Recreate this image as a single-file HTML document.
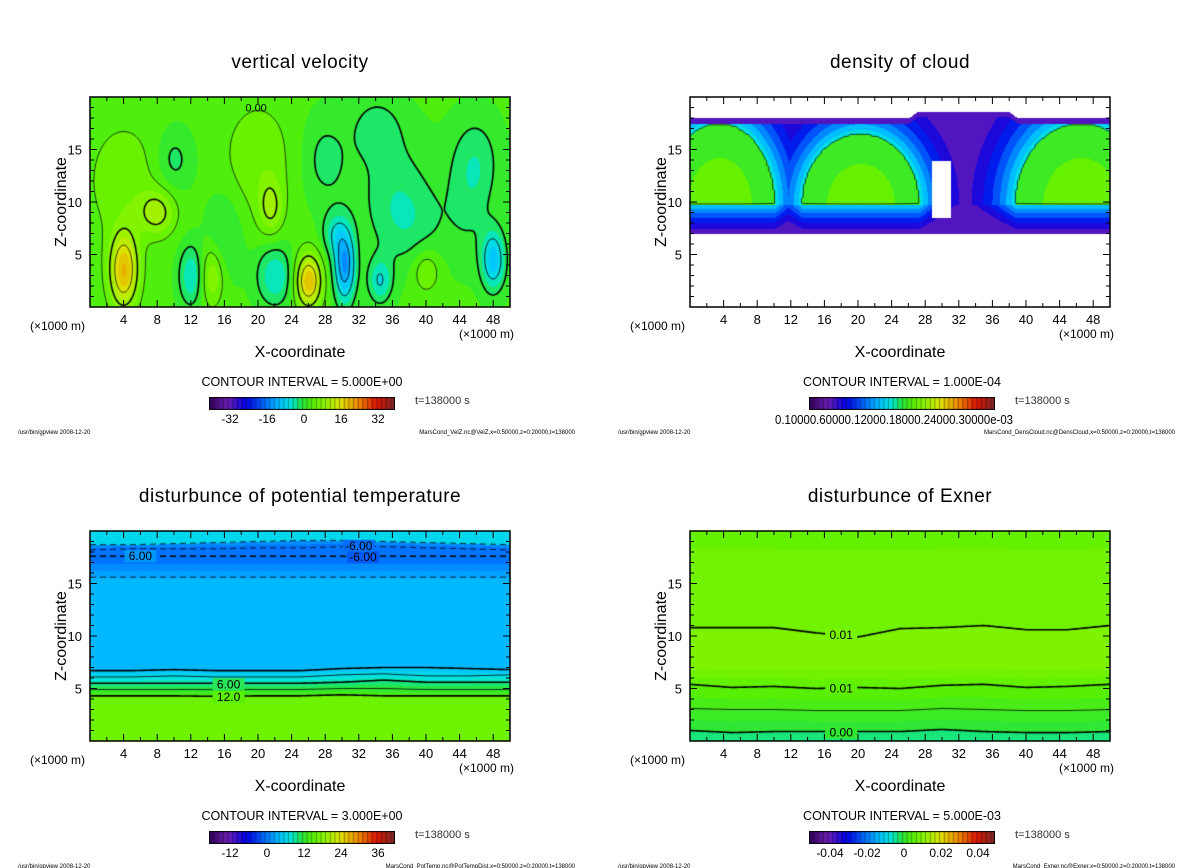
<!DOCTYPE html>
<html><head><meta charset="utf-8">
<style>
html,body{margin:0;padding:0;background:#fff;}
#wrap{position:relative;width:1200px;height:868px;overflow:hidden;font-family:"Liberation Sans",sans-serif;}
canvas{position:absolute;}
svg{position:absolute;left:0;top:0;}
</style></head>
<body>
<div id="wrap">
<canvas id="c0" width="420" height="210" style="left:90px;top:97px"></canvas>
<canvas id="c1" width="420" height="210" style="left:690px;top:97px"></canvas>
<canvas id="c2" width="420" height="210" style="left:90px;top:531px"></canvas>
<canvas id="c3" width="420" height="210" style="left:690px;top:531px"></canvas>
<canvas id="cb0" width="186" height="13" style="left:209px;top:397px"></canvas>
<canvas id="cb1" width="186" height="13" style="left:809px;top:397px"></canvas>
<canvas id="cb2" width="186" height="13" style="left:209px;top:831px"></canvas>
<canvas id="cb3" width="186" height="13" style="left:809px;top:831px"></canvas>
<svg id="ov" width="1200" height="868"></svg>
</div>
<script>
// ---------- data ----------
const xTickLabels=[4,8,12,16,20,24,28,32,36,40,44,48];
const zTickLabels=[5,10,15];
const titles=["vertical velocity","density of cloud","disturbunce of potential temperature","disturbunce of Exner"];
const intervals=["5.000E+00","1.000E-04","3.000E+00","5.000E-03"];
const footers=["MarsCond_VelZ.nc@VelZ,x=0:50000,z=0:20000,t=138000","MarsCond_DensCloud.nc@DensCloud,x=0:50000,z=0:20000,t=138000","MarsCond_PotTemp.nc@PotTempDist,x=0:50000,z=0:20000,t=138000","MarsCond_Exner.nc@Exner,x=0:50000,z=0:20000,t=138000"];
const cbLabels=[["-32","-16","0","16","32"],null,["-12","0","12","24","36"],["-0.04","-0.02","0","0.02","0.04"]];
// velocity blobs
const vvBx=[4,26,8,21.5,14.5,40,20,4,30.3,22,12,48,34.5,29,36,45,28,10,38,46,16,34];
const vvBz=[3.5,2.5,9,9.5,3,3.5,14,12,4,3,3,4.5,2.5,7,12,10,14,14,8,14,7,17];
const vvAmp=[17,17,8,7,7,5,4,4,-16,-8,-8,-12,-8,-6,-3.5,-3,-4,-4,-4,-4,-3.5,-4];
const vvSx=[1.2,1.1,1.5,1,1,1.2,3,3,0.9,1.5,1,1,1,1,3,2,2,1.5,3,2,1.5,2];
const vvSz=[2.5,1.8,1.5,1.8,2,1.5,4,4,2.5,2,2,2,1.5,1.5,4,4,3,2,3,3,3,2];
const vvBase=3;
// cloud domes (flat bottom at domeBase)
const dcX=[3.5,20.3,46.5];
const dRx=[6.6,7.0,7.8];
const dcTop=[17.5,16.5,17.5];
const domeBase=9.8;
const cloudBottom=7;
const topX=[0,26,27,38,39,50];
const topZ=[18,18,18.6,18.6,18,18];
const gapX=[28.8,31];
const gapZ=[8.5,14];
// potential temperature contour lines (ordered by height)
const ptXs=[0,5,10,15,20,25,30,35,40,45,50];
const ptLevels=[12,9,6,3,0,-1.5,-6,-6,-3];
const ptLines=[
 [4.3,4.3,4.3,4.25,4.3,4.3,4.4,4.3,4.3,4.3,4.3],
 [4.9,4.9,4.9,4.9,4.9,4.9,5.0,5.0,4.9,4.9,4.9],
 [5.5,5.5,5.5,5.5,5.5,5.5,5.6,5.8,5.6,5.6,5.6],
 [6.1,6.1,6.2,6.1,6.1,6.1,6.3,6.4,6.2,6.2,6.3],
 [6.7,6.7,6.8,6.7,6.7,6.7,6.9,7.0,7.0,6.9,6.8],
 [15.6,15.6,15.6,15.6,15.6,15.6,15.6,15.6,15.6,15.6,15.6],
 [17.6,17.6,17.6,17.6,17.6,17.6,17.6,17.6,17.6,17.6,17.6],
 [18.2,18.3,18.3,18.3,18.4,18.4,18.5,18.5,18.4,18.3,18.2],
 [18.7,18.7,18.8,18.9,19.0,19.1,19.1,19.0,18.9,18.8,18.7]];
const ptBelow=13.5, ptAbove=2;
// exner contour lines
const exXs=[0,5,10,15,20,25,30,35,40,45,50];
const exLevels=[0,0.005,0.010,0.017,0.015,0.012];
const exLines=[
 [1.0,0.8,0.9,0.9,0.9,0.9,1.1,0.9,0.8,0.8,0.9],
 [3.1,3.0,3.0,2.9,2.9,2.9,3.1,3.0,2.9,2.9,3.0],
 [5.4,5.1,5.2,5.0,5.1,5.0,5.3,5.4,5.1,5.2,5.4],
 [7.5,7.5,7.5,7.5,7.5,7.5,7.5,7.5,7.5,7.5,7.5],
 [10.8,10.8,10.8,10.3,9.9,10.7,10.8,11.0,10.6,10.6,11.0],
 [19.9,19.9,19.9,19.9,19.9,19.9,19.9,19.9,19.9,19.9,19.9]];
const exDrawn=[1,1,1,0,1,0];
const exBelow=-0.003;

// ---------- helpers ----------
const PX=[90,690,90,690], PY=[97,97,531,531], W=420, H=210;
const sx=x=>x/50*W, sz=z=>H-z/20*H;
const stops=[[0,50,0,90],[0.10,110,30,180],[0.20,0,0,230],[0.30,0,110,255],[0.38,0,195,255],[0.44,0,230,220],[0.50,40,230,60],[0.56,90,240,0],[0.62,140,245,0],[0.70,220,230,0],[0.80,240,140,0],[0.90,220,20,0],[1,120,40,40]];
function cmap(t){t=Math.max(0,Math.min(1,t));for(let i=1;i<stops.length;i++){if(t<=stops[i][0]){const a=stops[i-1],b=stops[i],f=(t-a[0])/(b[0]-a[0]);return [a[1]+(b[1]-a[1])*f,a[2]+(b[2]-a[2])*f,a[3]+(b[3]-a[3])*f];}}return stops[stops.length-1].slice(1);}
function interp(xs,ys,x){if(x<=xs[0])return ys[0];for(let i=1;i<xs.length;i++){if(x<=xs[i]){const f=(x-xs[i-1])/(xs[i]-xs[i-1]);return ys[i-1]+(ys[i]-ys[i-1])*f;}}return ys[ys.length-1];}
function lineField(xs,lines,levels,below,above,x,z){
  const zs=lines.map(l=>interp(xs,l,x));
  if(z<=zs[0])return below;
  for(let i=1;i<zs.length;i++){if(z<=zs[i]){const f=(z-zs[i-1])/(zs[i]-zs[i-1]);return levels[i-1]+(levels[i]-levels[i-1])*f;}}
  return above;
}
function vvField(x,z){let v=vvBase;for(let i=0;i<vvBx.length;i++){const dx=(x-vvBx[i])/vvSx[i],dz=(z-vvBz[i])/vvSz[i];v+=vvAmp[i]*Math.exp(-(dx*dx+dz*dz)/2);}return v;}
function cloudField(x,z){
  const top=interp(topX,topZ,x);
  if(z<cloudBottom||z>top)return null;
  if(x>gapX[0]&&x<gapX[1]&&z>gapZ[0]&&z<gapZ[1])return null;
  let v=0.00011;
  for(let i=0;i<dcX.length;i++){
    const dx=(x-dcX[i])/dRx[i];
    let c;
    if(z>=domeBase){
      const dz=(z-domeBase)/(dcTop[i]-domeBase);
      const d=Math.sqrt(dx*dx+dz*dz);
      c=d<1?0.00057-0.00006*d*d:0.00044*Math.exp(-(d-1)*1.6);
    }else{
      const b=(z-cloudBottom)/(domeBase-cloudBottom);
      const ax=Math.abs(dx);
      c=(0.00012+0.00028*Math.pow(b,1.3))*(ax<1?1:Math.exp(-(ax-1)*1.6));
    }
    v=Math.max(v,c);
  }
  const e=Math.min(z-cloudBottom,top-z);if(e<0.5)v=Math.min(v,0.0001);
  return v;
}
const fields=[
 {f:vvField,vmin:-40,vmax:40,q:2.5},
 {f:cloudField,vmin:0,vmax:0.001,q:0.00005},
 {f:(x,z)=>lineField(ptXs,ptLines,ptLevels,ptBelow,ptAbove,x,z),vmin:-26.8,vmax:43.7,q:1.5},
 {f:(x,z)=>lineField(exXs,exLines,exLevels,exBelow,0.012,x,z),vmin:-0.08,vmax:0.08,q:0.0025}
];
function paint(k){
  const c=document.getElementById('c'+k),ctx=c.getContext('2d'),img=ctx.createImageData(W,H),F=fields[k];
  const grid=[];
  for(let j=0;j<=H;j++){grid.push([]);for(let i=0;i<=W;i++){grid[j].push(F.f(i/W*50,(H-j)/H*20));}}
  for(let j=0;j<H;j++)for(let i=0;i<W;i++){
    const v=grid[j][i],p=(j*W+i)*4;
    if(v===null){img.data[p]=img.data[p+1]=img.data[p+2]=255;}
    else{const qv=(Math.floor(v/F.q)+0.5)*F.q;const col=cmap((qv-F.vmin)/(F.vmax-F.vmin));img.data[p]=col[0];img.data[p+1]=col[1];img.data[p+2]=col[2];}
    img.data[p+3]=255;
  }
  ctx.putImageData(img,0,0);
  return {ctx,grid};
}
function contour(ctx,grid,level,width,step){
  ctx.beginPath();
  for(let j=0;j+step<=H;j+=step)for(let i=0;i+step<=W;i+=step){
    const a=grid[j][i],b=grid[j][i+step],c=grid[j+step][i+step],d=grid[j+step][i];
    if(a===null||b===null||c===null||d===null)continue;
    const pts=[];
    const e=(v1,v2,x1,y1,x2,y2)=>{if((v1-level)*(v2-level)<0){const f=(level-v1)/(v2-v1);pts.push([x1+(x2-x1)*f,y1+(y2-y1)*f]);}};
    e(a,b,i,j,i+step,j);e(b,c,i+step,j,i+step,j+step);e(c,d,i+step,j+step,i,j+step);e(d,a,i,j+step,i,j);
    for(let p=0;p+1<pts.length;p+=2){ctx.moveTo(pts[p][0],pts[p][1]);ctx.lineTo(pts[p+1][0],pts[p+1][1]);}
  }
  ctx.lineWidth=width;ctx.strokeStyle='#000';ctx.stroke();
}
// panel 0
let r=paint(0);
[-15,-10,-5].forEach(l=>contour(r.ctx,r.grid,l,0.8,3));
contour(r.ctx,r.grid,0,1.6,2);
[5,15].forEach(l=>contour(r.ctx,r.grid,l,0.7,2));
contour(r.ctx,r.grid,10,1.5,2);
// panel 1
r=paint(1);
contour(r.ctx,r.grid,0.000485,0.7,2);
// panel 2
r=paint(2);
function drawLines(ctx,xs,lines,levels,drawn,boldFn){
  lines.forEach((l,n)=>{
    if(drawn&&!drawn[n])return;
    ctx.beginPath();
    for(let i=0;i<=W;i+=2){const z=interp(xs,l,i/W*50);const y=sz(z);if(i===0)ctx.moveTo(i,y);else ctx.lineTo(i,y);}
    ctx.setLineDash(levels[n]<0?[6,4]:[]);
    ctx.lineWidth=boldFn(levels[n],n)?1.6:0.8;ctx.strokeStyle='#000';ctx.stroke();
  });
  ctx.setLineDash([]);
}
drawLines(r.ctx,ptXs,ptLines,ptLevels,null,(lv,n)=>lv%6===0&&n!==7);
r=paint(3);
drawLines(r.ctx,exXs,exLines,exLevels,exDrawn,(lv,n)=>n!==1);
// colorbars
for(let k=0;k<4;k++){
  const c=document.getElementById('cb'+k),ctx=c.getContext('2d');const n=40,w=c.width/n;
  for(let i=0;i<n;i++){const col=cmap((i+0.5)/n);ctx.fillStyle=`rgb(${col[0]|0},${col[1]|0},${col[2]|0})`;ctx.fillRect(i*w,0,w+0.5,13);ctx.fillStyle='rgba(0,0,0,0.45)';ctx.fillRect(i*w,0,0.8,13);}
  ctx.strokeStyle='#000';ctx.lineWidth=1;ctx.strokeRect(0.5,0.5,c.width-1,12);
}
// ---------- overlay ----------
const NS='http://www.w3.org/2000/svg',ov=document.getElementById('ov');
function el(tag,attrs,text){const e=document.createElementNS(NS,tag);for(const k in attrs)e.setAttribute(k,attrs[k]);if(text!==undefined)e.textContent=text;ov.appendChild(e);return e;}
for(let k=0;k<4;k++){
  const ox=PX[k],oy=PY[k];
  const t=el('text',{x:ox+210,y:oy-29,'font-size':19,'text-anchor':'middle','letter-spacing':'0.5'},titles[k]);
  
  
  const fr=el('rect',{x:ox,y:oy,width:W,height:H,fill:'none',stroke:'#000','stroke-width':1.5});
  
  
  for(let v=2;v<50;v+=2){const L=v%4===0?7:4;el('line',{x1:ox+sx(v),x2:ox+sx(v),y1:oy+H,y2:oy+H-L,stroke:'#000'});el('line',{x1:ox+sx(v),x2:ox+sx(v),y1:oy,y2:oy+L,stroke:'#000'});}
  for(let v=1;v<20;v++){const L=v%5===0?7:4;el('line',{x1:ox,x2:ox+L,y1:oy+sz(v),y2:oy+sz(v),stroke:'#000'});el('line',{x1:ox+W,x2:ox+W-L,y1:oy+sz(v),y2:oy+sz(v),stroke:'#000'});}
  xTickLabels.forEach(v=>{const e=el('text',{x:ox+sx(v),y:oy+H+17,'font-size':13,'text-anchor':'middle'},String(v));});
  zTickLabels.forEach(v=>{const e=el('text',{x:ox-8,y:oy+sz(v)+5,'font-size':13,'text-anchor':'end'},String(v));});
  let e=el('text',{x:ox-60,y:oy+H+23,'font-size':12},'(×1000 m)');
  e=el('text',{x:ox+W+4,y:oy+H+31,'font-size':12,'text-anchor':'end'},'(×1000 m)');
  e=el('text',{x:ox+210,y:oy+H+50,'font-size':16,'text-anchor':'middle'},'X-coordinate');
  e=el('text',{x:0,y:0,'font-size':16,'text-anchor':'middle',transform:`translate(${ox-24},${oy+105}) rotate(-90)`},'Z-coordinate');
  e=el('text',{x:ox+212,y:oy+289,'font-size':12.5,'text-anchor':'middle'},'CONTOUR INTERVAL = '+intervals[k]);
  e=el('text',{x:ox+325,y:oy+307,'font-size':11,fill:'#333'},'t=138000 s');
  e=el('text',{x:ox-72,y:oy+337,'font-size':6},'/usr/bin/gpview   2008-12-20');
  e=el('text',{x:ox+485,y:oy+337,'font-size':6,'text-anchor':'end'},footers[k]);
  if(cbLabels[k]){cbLabels[k].forEach((s,i)=>{const le=el('text',{x:ox+140+i*37,y:oy+326,'font-size':12,'text-anchor':'middle'},s);});}
  else{const le=el('text',{x:ox+85,y:oy+327,'font-size':13,textLength:238,lengthAdjust:'spacingAndGlyphs'},'0.10000.60000.12000.18000.24000.30000e-03');}
}
// contour labels
function clabel(x,y,s,bg){const r=el('rect',{x:x-16,y:y-10,width:32,height:12,fill:bg});const t=el('text',{x:x,y:y,'font-size':12,'text-anchor':'middle'},s);}
clabel(90+sx(16.5),531+sz(4.3)+5,'12.0','rgb(90,240,0)');
clabel(90+sx(16.5),531+sz(5.5)+5,'6.00','rgb(40,230,90)');
clabel(90+sx(32.5),531+sz(17.6)+5,'-6.00','rgb(0,90,250)');
clabel(90+sx(32),531+sz(18.4)+2,'-6.00','rgb(0,110,250)');
clabel(90+sx(6),531+sz(17.6)+4,'6.00','rgb(0,150,250)');
clabel(690+sx(18),531+sz(10.2)+5,'0.01','rgb(120,244,0)');
clabel(690+sx(18),531+sz(5.1)+5,'0.01','rgb(95,240,0)');
clabel(690+sx(18),531+sz(0.9)+5,'0.00','rgb(50,230,50)');
const lbl=el('text',{x:90+sx(18.5),y:97+sz(19)+4,'font-size':11},'0.00');


</script>
</body></html>
